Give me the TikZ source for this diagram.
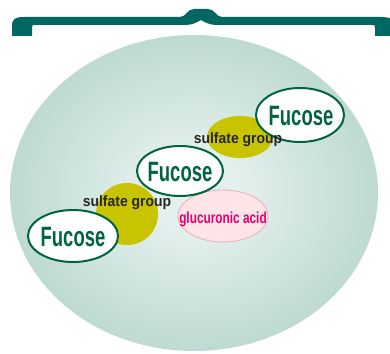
\documentclass[tikz,border=0pt]{standalone}
\usepackage{fontspec}
\setmainfont{Liberation Sans}
\usepackage{graphicx}
\definecolor{braceteal}{RGB}{0,104,98}
\definecolor{fucgreen}{RGB}{0,100,62}
\definecolor{sulfol}{RGB}{200,196,0}
\definecolor{glufill}{RGB}{255,228,232}
\definecolor{gluline}{RGB}{240,170,185}
\definecolor{glutext}{RGB}{228,0,110}
\definecolor{ballin}{RGB}{228,240,237}
\definecolor{ballmid}{RGB}{180,212,202}
\definecolor{ballout}{RGB}{138,189,173}
\pgfdeclareradialshading{ballshade}{\pgfpoint{0bp}{0bp}}{%
  color(0bp)=(ballin); color(6bp)=(ballin); color(30bp)=(ballmid);
  color(50bp)=(ballout); color(100bp)=(ballout)}
\tikzset{
  fucbox/.style={ellipse, draw=fucgreen, line width=2pt, fill=white, minimum width=#1},
  sulfbox/.style={ellipse, fill=sulfol, draw=none},
  glubox/.style={ellipse, fill=glufill, draw=gluline, line width=0.8pt},
  fuctext/.style={text=fucgreen, font=\fontsize{28}{28}\selectfont\bfseries},
  sulftext/.style={text=black!85, font=\fontsize{15}{15}\selectfont\bfseries},
  glutext/.style={text=glutext, font=\fontsize{16}{16}\selectfont\bfseries},
}
\usetikzlibrary{shapes.geometric}
\newcommand{\condense}[2]{\scalebox{#1}[1]{#2}}
\begin{document}
\begin{tikzpicture}[x=1pt,y=-1pt]
\useasboundingbox (0,0) rectangle (390,353);
% brace
\fill[braceteal] (12,36) -- (12,26) .. controls (12,19) and (15,17) .. (24,17)
  -- (180,17) .. controls (186,17) and (187,9) .. (194,9) -- (208,9)
  .. controls (215,9) and (216,17) .. (222,17)
  -- (380,17) .. controls (392,17) and (395,20) .. (395,26) -- (395,36) -- (375,36)
  -- (375,28) .. controls (375,25) .. (371,25)
  -- (216,25) .. controls (210,25) and (204,22) .. (201,20)
  .. controls (198,22) and (192,25) .. (186,25)
  -- (36,25) .. controls (32,25) .. (32,28) -- (32,36) -- cycle;
% ball
\node[ellipse, minimum width=368pt, minimum height=316pt, shading=ballshade, draw=none] (ball) at (194,193) {};
% sulfate groups
\node[sulfbox, minimum width=62pt, minimum height=62pt] (s1) at (127,214) {};
\node[sulfbox, minimum width=66pt, minimum height=42pt] (s2) at (240,137) {};
% glucuronic acid
\node[glubox, minimum width=90pt, minimum height=52pt] (g) at (223,216) {};
\node[glutext] (gt) at (223,219) {\condense{0.74}{glucuronic acid}};
% fucose
\node[fucbox=90pt, minimum height=52pt] (f1) at (73,236) {};
\node[fuctext] (f1t) at (73,237) {\condense{0.66}{Fucose}};
\node[fucbox=86pt, minimum height=50pt] (f2) at (180,171) {};
\node[fuctext] (f2t) at (180,172) {\condense{0.66}{Fucose}};
\node[fucbox=88pt, minimum height=54pt] (f3) at (300,115) {};
\node[fuctext] (f3t) at (301,116) {\condense{0.66}{Fucose}};
% sulfate labels
\node[sulftext] (s1t) at (127,203) {\condense{0.93}{sulfate group}};
\node[sulftext] (s2t) at (238,140) {\condense{0.93}{sulfate group}};
\end{tikzpicture}
\end{document}
